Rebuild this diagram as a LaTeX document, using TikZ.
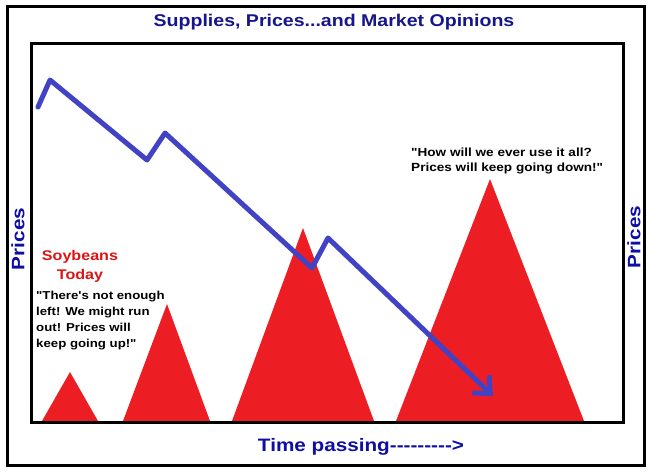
\documentclass[tikz,border=0pt]{standalone}
\usepackage{fontspec}
\setmainfont{Liberation Sans}[FakeStretch=1.15, Ligatures=TeXOff]
\usetikzlibrary{arrows.meta}
\definecolor{titleblue}{RGB}{22,22,140}
\definecolor{labelblue}{RGB}{14,14,165}
\definecolor{lineblue}{RGB}{66,66,196}
\definecolor{trired}{RGB}{236,30,36}
\definecolor{softred}{RGB}{222,20,20}
\tikzset{
  frame/.style={draw=black, line width=3pt},
  pile/.style={fill=trired, draw=none},
  trend/.style={draw=lineblue, line width=5pt, line join=round, line cap=round,
    -{Straight Barb[length=12pt, width=22pt, line cap=round]}},
  quote/.style={inner sep=0pt, align=left, font=\fontsize{11.5}{16}\selectfont\bfseries},
}
\begin{document}
\begin{tikzpicture}[x=1pt,y=-1pt]
\useasboundingbox (0,0) rectangle (653,472);
\fill[white] (0,0) rectangle (653,472);
% triangles
\fill[pile] (42,421) -- (70,372) -- (98,421) -- cycle;
\fill[pile] (123,421) -- (167,304) -- (210,421) -- cycle;
\fill[pile] (232,421) -- (303,228) -- (374,421) -- cycle;
\fill[pile] (396,421) -- (490,179) -- (584,421) -- cycle;
% frames
\draw[frame] (7,6) rectangle (644,465);
\draw[frame] (31,43) rectangle (623,422);
% trend line
\coordinate (p0) at (38,107);
\coordinate (p1) at (50,80);
\coordinate (p2) at (147,160);
\coordinate (p3) at (165,133);
\coordinate (p4) at (312,268);
\coordinate (p5) at (328,238);
\coordinate (p6) at (493,396);
\draw[trend] (p0) -- (p1) -- (p2) -- (p3) -- (p4) -- (p5) -- (p6);
% texts
\node[text=titleblue, font=\fontsize{17}{20}\selectfont\bfseries] (title) at (334,22) {Supplies, Prices...and Market Opinions};
\node[text=labelblue, font=\fontsize{18}{20}\selectfont\bfseries, rotate=90] (pricesL) at (18,239) {Prices};
\node[text=labelblue, font=\fontsize{18}{20}\selectfont\bfseries, rotate=90] (pricesR) at (634,237) {Prices};
\node[text=labelblue, font=\fontsize{18}{20}\selectfont\bfseries] (time) at (361,447) {Time passing--------->};
\node[text=softred, inner sep=0pt, align=center, font=\fontsize{14}{19}\selectfont\bfseries, anchor=north] (soy) at (80,250) {Soybeans\\Today};
\node[quote, anchor=north west] (qleft) at (36,291) {"There's not enough\\left! We might run\\out! Prices will\\keep going up!"};
\node[quote, anchor=north west, font=\fontsize{11.8}{15}\selectfont\bfseries] (qright) at (411,148) {"How will we ever use it all?\\Prices will keep going down!"};
\end{tikzpicture}
\end{document}
